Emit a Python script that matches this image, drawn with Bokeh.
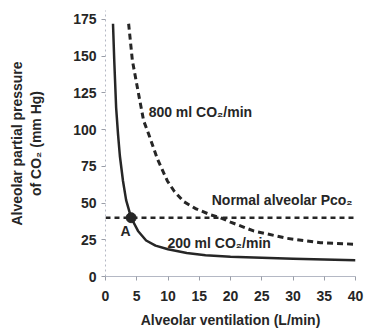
from bokeh.plotting import figure
from bokeh.models import ColumnDataSource, Range1d, FixedTicker, Label
from bokeh.embed import file_html
from bokeh.resources import INLINE

# --- data ---
vent_200 = [1.2, 1.4, 1.7, 2.0, 2.3, 2.8, 3.3, 4.1, 5.2, 6.5, 8.0, 10.0, 13.0, 16.0, 20.0, 25.0, 30.0, 35.0, 40.0]
pco2_200 = [172, 147, 115, 97, 82, 65, 52, 40, 31, 24.5, 21, 18.5, 16, 14.5, 13.5, 12.8, 12.0, 11.5, 11.0]

vent_800 = [3.7, 4.3, 5.3, 6.1, 6.9, 8.3, 9.9, 11.0, 12.5, 14.5, 16.8, 18.4, 20.0, 23.7, 29.0, 34.4, 39.7]
pco2_800 = [172, 147, 124, 106, 97, 80, 65, 58, 51, 46, 42, 40, 37, 31, 26, 23, 22]

normal_vent = [0, 40]
normal_pco2 = [40, 40]

point_a_vent = [4.1]
point_a_pco2 = [40]

x_ticks = [0, 5, 10, 15, 20, 25, 30, 35, 40]
y_ticks = [0, 25, 50, 75, 100, 125, 150, 175]

FONT = "Liberation Sans, Arial, sans-serif"
INK = "#262626"

p = figure(width=368, height=334, output_backend="svg", toolbar_location=None,
           x_range=Range1d(0, 40), y_range=Range1d(0, 181),
           min_border_left=105, min_border_right=13, min_border_top=10, min_border_bottom=58)
p.outline_line_color = None
p.grid.grid_line_color = None
p.background_fill_color = "white"
p.border_fill_color = "white"

s200 = ColumnDataSource(dict(x=vent_200, y=pco2_200))
s800 = ColumnDataSource(dict(x=vent_800, y=pco2_800))
snorm = ColumnDataSource(dict(x=normal_vent, y=normal_pco2))
sa = ColumnDataSource(dict(x=point_a_vent, y=point_a_pco2))

p.line("x", "y", source=s200, line_color=INK, line_width=2.5, line_join="round")
p.line("x", "y", source=s800, line_color=INK, line_width=3, line_dash="6 4")
p.line("x", "y", source=snorm, line_color=INK, line_width=2.5, line_dash="5 4")
p.scatter("x", "y", source=sa, size=10, fill_color=INK, line_color=INK)

# axes
for ax in (p.xaxis[0], p.yaxis[0]):
    ax.major_label_text_font = FONT
    ax.major_label_text_font_style = "bold"
    ax.major_label_text_font_size = "14px"
    ax.major_label_text_color = INK
    ax.axis_label_text_font = FONT
    ax.axis_label_text_font_style = "bold"
    ax.axis_label_text_font_size = "14px"
    ax.axis_label_text_color = INK
    ax.minor_tick_line_color = None
    ax.axis_line_color = "#b4b8c4"
    ax.major_tick_line_color = "#9a9ea8"
    ax.major_tick_in = 0
    ax.major_tick_out = 4

p.xaxis[0].ticker = FixedTicker(ticks=x_ticks)
p.yaxis[0].ticker = FixedTicker(ticks=y_ticks)
p.yaxis[0].axis_line_dash = "2 3"
p.yaxis[0].major_label_standoff = 5
p.xaxis[0].major_label_standoff = 10
p.xaxis[0].axis_label = "Alveolar ventilation (L/min)"
p.xaxis[0].axis_label_standoff = 8
p.yaxis[0].axis_label = "Alveolar partial pressure\nof CO\u2082 (mm Hg)"
p.yaxis[0].axis_label_standoff = 26

def note(x, y, t, size="14px", align="left"):
    p.add_layout(Label(x=x, y=y, text=t, text_font=FONT, text_font_style="bold",
                       text_font_size=size, text_color=INK, text_align=align,
                       text_baseline="middle"))

note(6.9, 112, "800 ml CO\u2082/min")
note(17.0, 52, "Normal alveolar Pco\u2082")
note(9.9, 23, "200 ml CO\u2082/min")
note(3.2, 31, "A", align="center")

open("out.html", "w").write(file_html(p, INLINE))
